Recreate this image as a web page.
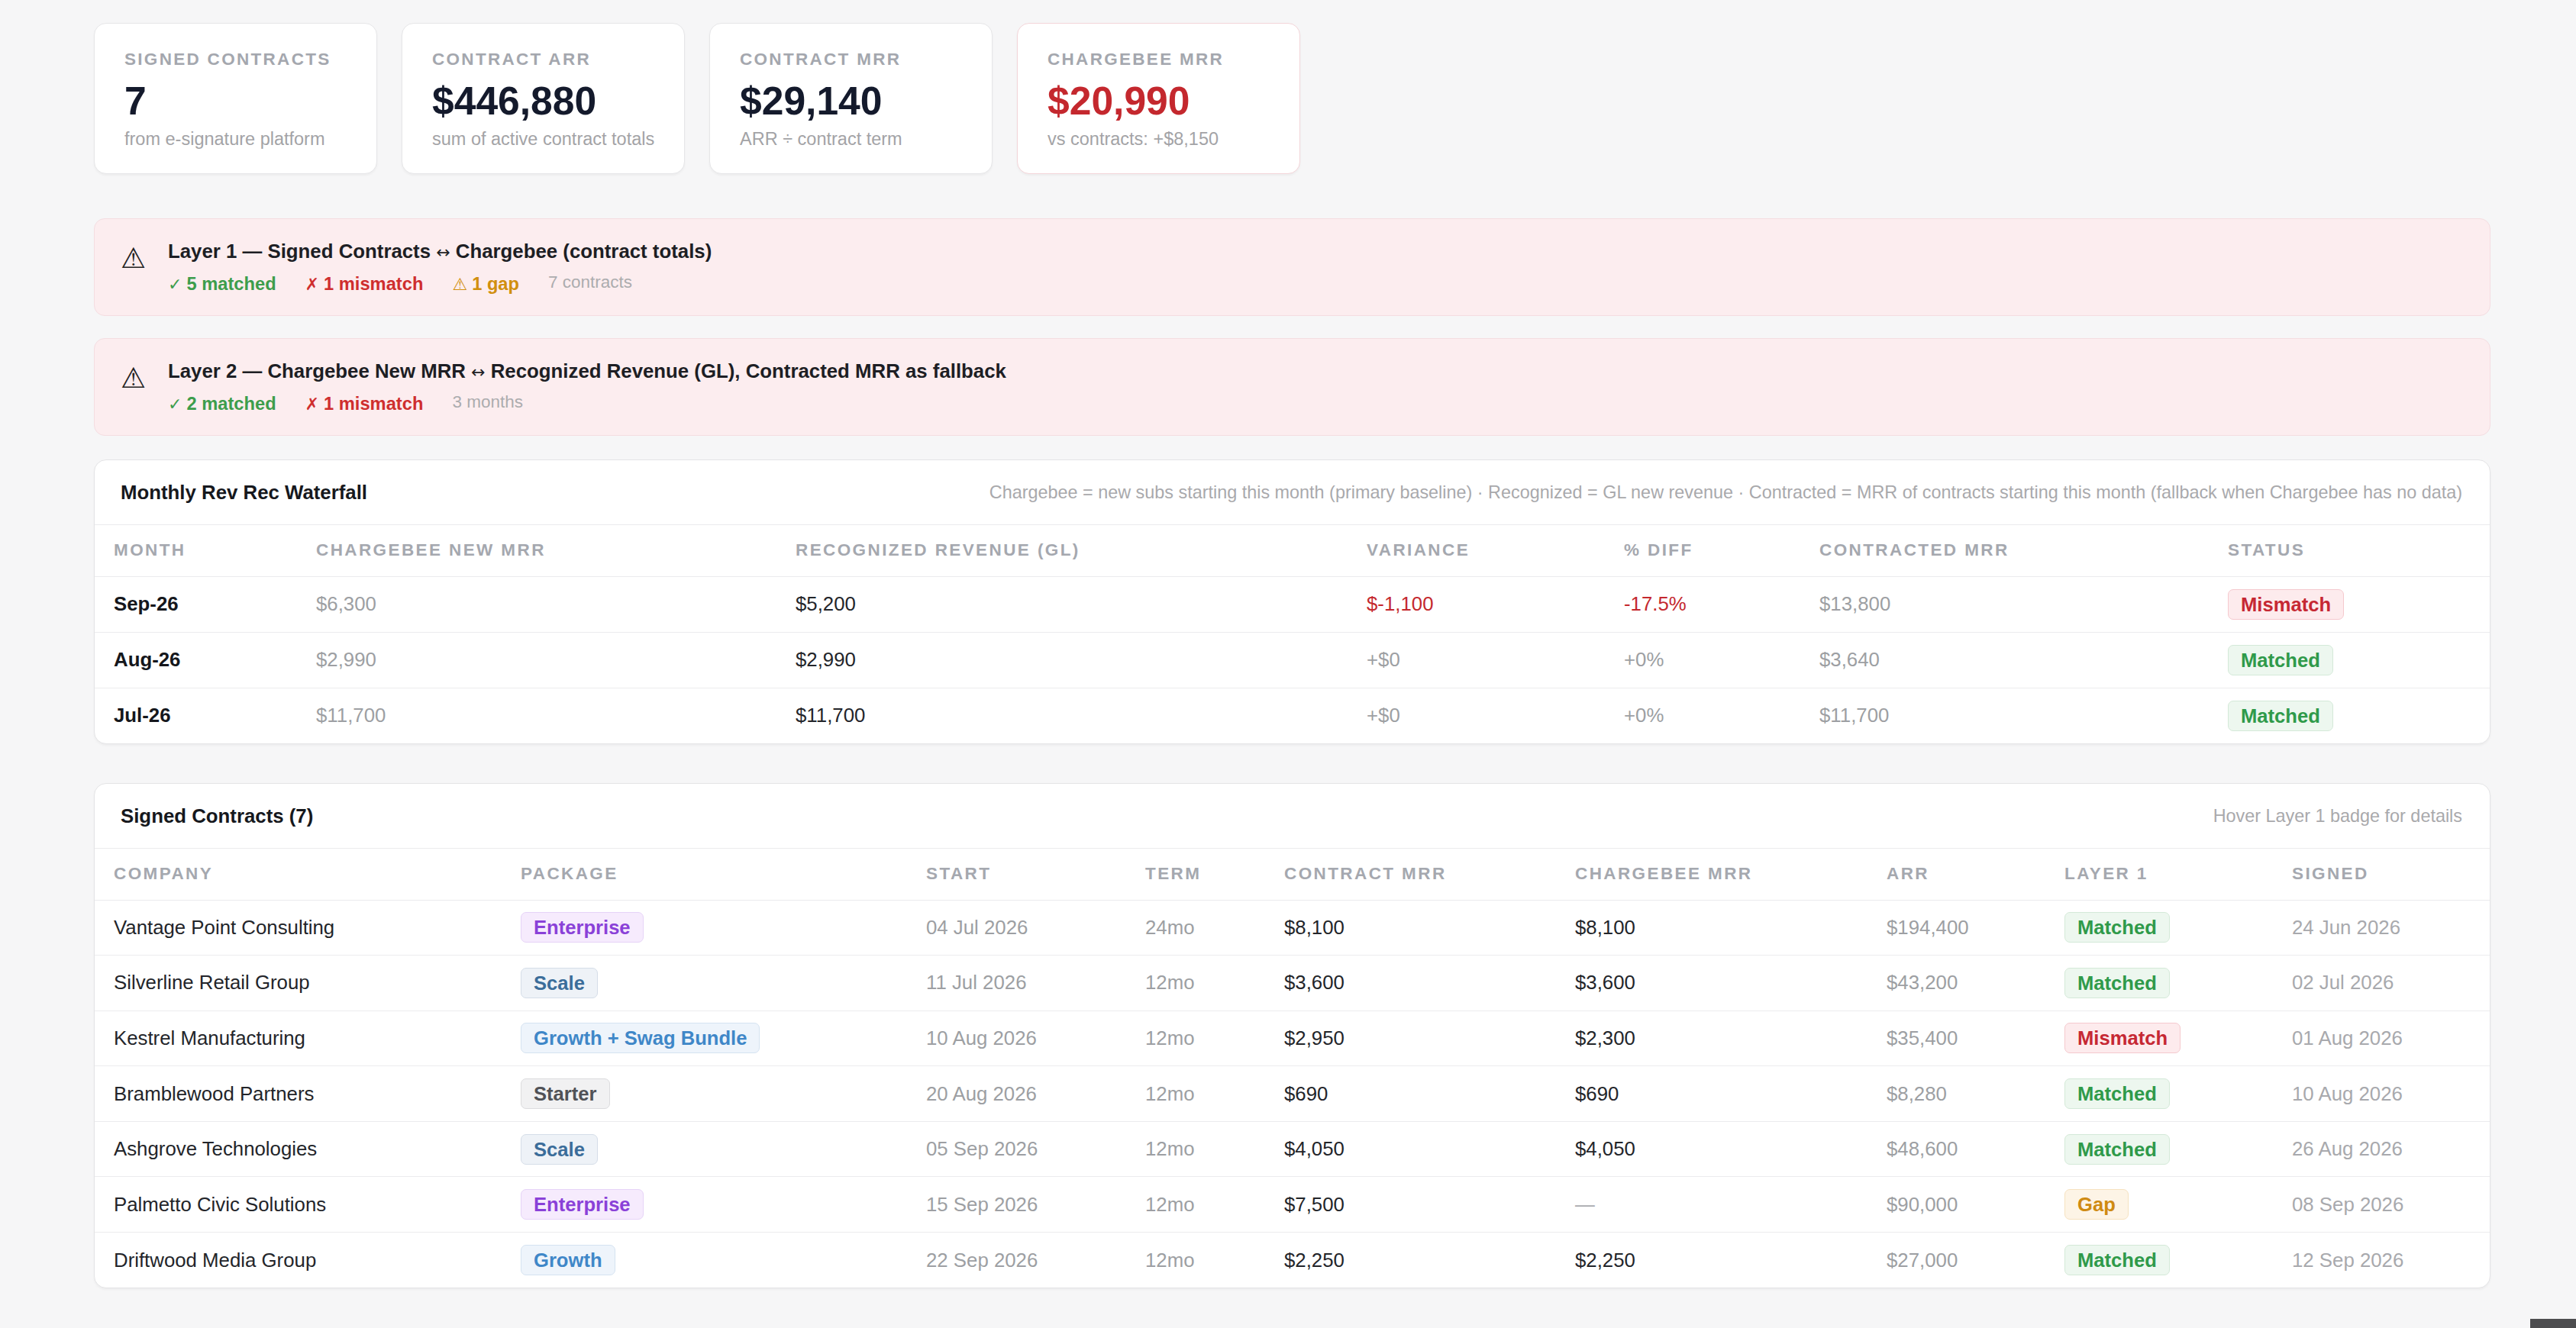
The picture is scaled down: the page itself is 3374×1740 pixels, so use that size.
<!DOCTYPE html>
<html lang="en">
<head>
    <meta charset="UTF-8">
    <title>Rev Rec Reconciliation</title>
    <script src="https://cdn.jsdelivr.net/npm/chart.js"></script>
    <style>
        * { box-sizing: border-box; }
        html, body { margin: 0; padding: 0; }
        body {
            width: 3374px;
            height: 1740px;
            background: #f6f6f7;
            font-family: "Liberation Sans", Arial, Helvetica, sans-serif;
            color: #1b1d22;
            position: relative;
            overflow: hidden;
        }
        .page { position: absolute; left: 123px; top: 30px; width: 3139px; }

        /* KPI cards */
        .kpis { display: flex; gap: 32px; height: 198px; }
        .kpi {
            width: 371px; height: 198px;
            background: #fff;
            border: 1px solid #e6e6e8;
            border-radius: 16px;
            box-shadow: 0 2px 3px rgba(0,0,0,0.04);
            padding: 33px 0 0 39px;
        }
        .kpi.alert { border-color: #f3d5d9; }
        .kpi .label {
            font-size: 22.5px; line-height: 28px; font-weight: 700;
            letter-spacing: 2.3px; color: #a4a7ae; text-transform: uppercase;
        }
        .kpi .value {
            font-size: 51.6px; line-height: 60px; font-weight: 700;
            color: #141a2c; margin-top: 10px;
        }
        .kpi.alert .value { color: #c4282e; }
        .kpi .sub { font-size: 23.5px; line-height: 30px; color: #a3a3a6; margin-top: 5px; }

        /* layer banners */
        .banner {
            position: relative;
            height: 128px;
            background: #fcedef;
            border: 1px solid #f4dde1;
            border-radius: 14px;
            padding: 25px 0 0 96px;
        }
        .banner .icon {
            position: absolute; left: 34px; top: 30px;
            font-family: "DejaVu Sans", sans-serif; font-size: 37px; line-height: 44px; color: #222;
        }
        .banner .title { font-size: 25.8px; line-height: 34px; font-weight: 700; color: #1d1e24; }
        .banner .arrow { font-family: "DejaVu Sans", sans-serif; font-size: 22px; font-weight: 400; }
        .banner .stats { margin-top: 9px; font-size: 23.7px; line-height: 30px; white-space: nowrap; }
        .banner .stats span { margin-right: 38px; font-weight: 700; }
        .banner .stats .sym { margin-right: 6px; font-family: "DejaVu Sans", sans-serif; font-weight: 400; font-size: 22px; }
        .banner .stats .ok { color: #3d9d4c; }
        .banner .stats .bad { color: #cf2e2e; }
        .banner .stats .gap { color: #d18f0e; }
        .banner .stats .muted { color: #acacae; font-weight: 400; font-size: 22.5px; position: relative; top: -3px; }

        /* tables */
        .card {
            background: #fff;
            border: 1px solid #e4e4e6;
            border-radius: 16px;
            box-shadow: 0 2px 3px rgba(0,0,0,0.04);
            overflow: hidden;
        }
        .card .head {
            height: 85px;
            display: flex; align-items: center; justify-content: space-between;
            padding: 0 36px 0 34px;
            border-bottom: 1px solid #ebebed;
        }
        .card .head h2 { margin: 0; font-size: 25.8px; font-weight: 700; color: #16181d; }
        .card .head .note { font-size: 23.4px; color: #a9a9ac; white-space: nowrap; }
        table { border-collapse: collapse; table-layout: fixed; width: 100%; }
        th, td { padding: 0 0 0 25px; text-align: left; vertical-align: middle; white-space: nowrap; }
        th {
            height: 67px;
            font-size: 22.5px; font-weight: 700; letter-spacing: 2.4px;
            color: #a5a8af; text-transform: uppercase;
            border-bottom: 1px solid #ebebed;
        }
        td { height: 73px; font-size: 25.8px; color: #23252a; border-bottom: 1px solid #ececee; }
        #contracts td { height: 72.6px; }
        tr:last-child td { border-bottom: none; }
        td.b { font-weight: 700; color: #15171c; }
        td.g { color: #9d9fa3; }
        td.lg { color: #a8a9ad; }
        td.red { color: #c4282e; }

        .badge {
            display: inline-block;
            height: 40px; line-height: 38px;
            padding: 0 16px;
            border-radius: 7px;
            border: 1px solid;
            font-size: 25.6px; font-weight: 700;
        }
        .st-Matched  { background: #edf7ef; border-color: #d4e9d8; color: #2f9a4a; }
        .st-Mismatch { background: #fdebed; border-color: #f5c9ce; color: #c62833; }
        .st-Gap      { background: #fdf4e6; border-color: #f6e2c0; color: #cf8a12; }
        .pk-Enterprise { background: #f6ebfd; border-color: #e6d3f7; color: #8a41d8; }
        .pk-Scale      { background: #eef2f7; border-color: #d5dde8; color: #3b6d9a; }
        .pk-Growth     { background: #eef4fb; border-color: #d5e3f1; color: #3f87c8; }
        .pk-Starter    { background: #f1f1f2; border-color: #dcdcde; color: #505257; }

        .corner { position: absolute; right: 0; bottom: 0; width: 60px; height: 12px; background: #4d4d4f; }
    </style>
</head>
<body>
    <div class="page">
        <div class="kpis" id="kpis"></div>
        <div class="banner" id="layer1" style="margin-top:58px"></div>
        <div class="banner" id="layer2" style="margin-top:29px"></div>

        <div class="card" style="margin-top:31px">
            <div class="head">
                <h2>Monthly Rev Rec Waterfall</h2>
                <div class="note">Chargebee = new subs starting this month (primary baseline) · Recognized = GL new revenue · Contracted = MRR of contracts starting this month (fallback when Chargebee has no data)</div>
            </div>
            <table id="waterfall">
                <colgroup>
                    <col style="width:265px"><col style="width:628px"><col style="width:748px">
                    <col style="width:337px"><col style="width:256px"><col style="width:535px"><col>
                </colgroup>
            </table>
        </div>

        <div class="card" style="margin-top:51px">
            <div class="head">
                <h2 id="contractsTitle">Signed Contracts</h2>
                <div class="note">Hover Layer 1 badge for details</div>
            </div>
            <table id="contracts">
                <colgroup>
                    <col style="width:533px"><col style="width:531px"><col style="width:287px">
                    <col style="width:182px"><col style="width:381px"><col style="width:408px">
                    <col style="width:233px"><col style="width:298px"><col>
                </colgroup>
            </table>
        </div>
    </div>
    <div class="corner"></div>

    <script>
        // KPI tiles
        const kpiLabels = ['Signed Contracts', 'Contract ARR', 'Contract MRR', 'Chargebee MRR'];
        const kpiValues = ['7', '$446,880', '$29,140', '$20,990'];
        const kpiNotes = ['from e-signature platform', 'sum of active contract totals', 'ARR ÷ contract term', 'vs contracts: +$8,150'];

        // reconciliation layers
        const layer1Counts = { matched: 5, mismatch: 1, gap: 1, total: 7 };
        const layer2Counts = { matched: 2, mismatch: 1, total: 3 };

        // monthly waterfall
        const waterfallCols = ['Month', 'Chargebee New MRR', 'Recognized Revenue (GL)', 'Variance', '% Diff', 'Contracted MRR', 'Status'];
        const months = ['Sep-26', 'Aug-26', 'Jul-26'];
        const chargebeeNewMrr = [6300, 2990, 11700];
        const recognizedRevenue = [5200, 2990, 11700];
        const variance = [-1100, 0, 0];
        const pctDiff = [-17.5, 0, 0];
        const contractedMrr = [13800, 3640, 11700];
        const monthStatus = ['Mismatch', 'Matched', 'Matched'];

        // signed contracts
        const contractCols = ['Company', 'Package', 'Start', 'Term', 'Contract MRR', 'Chargebee MRR', 'ARR', 'Layer 1', 'Signed'];
        const companies = ['Vantage Point Consulting', 'Silverline Retail Group', 'Kestrel Manufacturing', 'Bramblewood Partners', 'Ashgrove Technologies', 'Palmetto Civic Solutions', 'Driftwood Media Group'];
        const packages = ['Enterprise', 'Scale', 'Growth + Swag Bundle', 'Starter', 'Scale', 'Enterprise', 'Growth'];
        const startDates = ['04 Jul 2026', '11 Jul 2026', '10 Aug 2026', '20 Aug 2026', '05 Sep 2026', '15 Sep 2026', '22 Sep 2026'];
        const termMonths = [24, 12, 12, 12, 12, 12, 12];
        const contractMrr = [8100, 3600, 2950, 690, 4050, 7500, 2250];
        const chargebeeMrr = [8100, 3600, 2300, 690, 4050, null, 2250];
        const contractArr = [194400, 43200, 35400, 8280, 48600, 90000, 27000];
        const layer1Status = ['Matched', 'Matched', 'Mismatch', 'Matched', 'Matched', 'Gap', 'Matched'];
        const signedDates = ['24 Jun 2026', '02 Jul 2026', '01 Aug 2026', '10 Aug 2026', '26 Aug 2026', '08 Sep 2026', '12 Sep 2026'];

        const money = v => '$' + v.toLocaleString('en-US');
        const signedMoney = v => (v < 0 ? '$' + v.toLocaleString('en-US') : '+$' + v.toLocaleString('en-US'));
        const pct = v => (v < 0 ? v.toFixed(1) + '%' : '+' + v + '%');
        const badge = (cls, text) => `<span class="badge ${cls}">${text}</span>`;
        const pkgClass = p => 'pk-' + (p.startsWith('Growth') ? 'Growth' : p);

        function renderKpis() {
            document.getElementById('kpis').innerHTML = kpiLabels.map((label, i) => `
                <div class="kpi${i === 3 ? ' alert' : ''}">
                    <div class="label">${label}</div>
                    <div class="value">${kpiValues[i]}</div>
                    <div class="sub">${kpiNotes[i]}</div>
                </div>`).join('');
        }

        function renderBanners() {
            const arrow = '<span class="arrow">↔</span>';
            document.getElementById('layer1').innerHTML = `
                <div class="icon">⚠</div>
                <div class="title">Layer 1 — Signed Contracts ${arrow} Chargebee (contract totals)</div>
                <div class="stats">
                    <span class="ok"><span class="sym">✓</span>${layer1Counts.matched} matched</span><span class="bad"><span class="sym">✗</span>${layer1Counts.mismatch} mismatch</span><span class="gap"><span class="sym">⚠</span>${layer1Counts.gap} gap</span><span class="muted">${layer1Counts.total} contracts</span>
                </div>`;
            document.getElementById('layer2').innerHTML = `
                <div class="icon">⚠</div>
                <div class="title">Layer 2 — Chargebee New MRR ${arrow} Recognized Revenue (GL), Contracted MRR as fallback</div>
                <div class="stats">
                    <span class="ok"><span class="sym">✓</span>${layer2Counts.matched} matched</span><span class="bad"><span class="sym">✗</span>${layer2Counts.mismatch} mismatch</span><span class="muted">${layer2Counts.total} months</span>
                </div>`;
        }

        function renderWaterfall() {
            const table = document.getElementById('waterfall');
            let html = '<thead><tr>' + waterfallCols.map(c => `<th>${c}</th>`).join('') + '</tr></thead><tbody>';
            months.forEach((m, i) => {
                const off = variance[i] !== 0;
                html += `<tr>
                    <td class="b">${m}</td>
                    <td class="g">${money(chargebeeNewMrr[i])}</td>
                    <td>${money(recognizedRevenue[i])}</td>
                    <td class="${off ? 'red' : 'g'}">${signedMoney(variance[i])}</td>
                    <td class="${off ? 'red' : 'g'}">${pct(pctDiff[i])}</td>
                    <td class="g">${money(contractedMrr[i])}</td>
                    <td>${badge('st-' + monthStatus[i], monthStatus[i])}</td>
                </tr>`;
            });
            table.insertAdjacentHTML('beforeend', html + '</tbody>');
        }

        function renderContracts() {
            document.getElementById('contractsTitle').textContent = `Signed Contracts (${companies.length})`;
            const table = document.getElementById('contracts');
            let html = '<thead><tr>' + contractCols.map(c => `<th>${c}</th>`).join('') + '</tr></thead><tbody>';
            companies.forEach((c, i) => {
                html += `<tr>
                    <td>${c}</td>
                    <td>${badge(pkgClass(packages[i]), packages[i])}</td>
                    <td class="g">${startDates[i]}</td>
                    <td class="g">${termMonths[i]}mo</td>
                    <td>${money(contractMrr[i])}</td>
                    <td class="${chargebeeMrr[i] === null ? 'lg' : ''}">${chargebeeMrr[i] === null ? '—' : money(chargebeeMrr[i])}</td>
                    <td class="g">${money(contractArr[i])}</td>
                    <td>${badge('st-' + layer1Status[i], layer1Status[i])}</td>
                    <td class="lg">${signedDates[i]}</td>
                </tr>`;
            });
            table.insertAdjacentHTML('beforeend', html + '</tbody>');
        }

        renderKpis();
        renderBanners();
        renderWaterfall();
        renderContracts();
    </script>
</body>
</html>
